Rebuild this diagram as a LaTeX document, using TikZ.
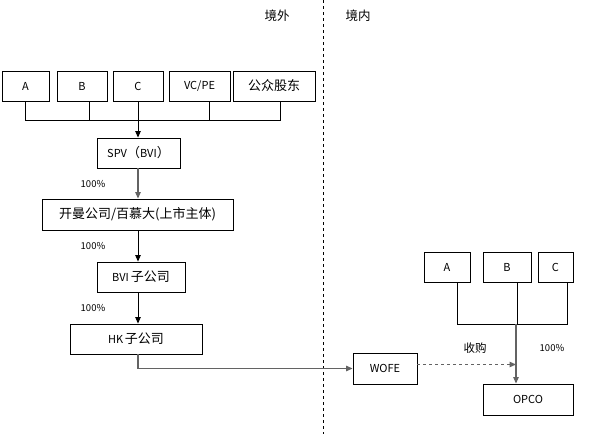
\documentclass[tikz,border=0pt]{standalone}
\usepackage{fontspec}
\setmainfont{Noto Sans CJK SC}
\newfontfamily\cjk{Noto Sans CJK SC}
\usetikzlibrary{arrows.meta,positioning,calc}
\definecolor{ink}{HTML}{000000}
\definecolor{line}{HTML}{636363}
\newcommand{\zh}[1]{{\cjk\fontsize{13}{15}\selectfont #1}}
\tikzset{
  box/.style={draw=ink,line width=.9pt,minimum height=30pt,inner sep=2pt,align=center,font=\fontsize{11}{13}\selectfont},
  plain/.style={align=center,font=\fontsize{9.5}{11}\selectfont,text=ink},
  zone/.style={align=center,font=\cjk\fontsize{12.5}{14}\selectfont},
  ln/.style={draw=ink,line width=.9pt},
  ar/.style={-{Triangle[length=6.5pt,width=5.5pt]},draw=ink,line width=.9pt},
  arg/.style={-{Triangle[length=6.5pt,width=5.5pt]},draw=line,line width=1.2pt},
  ard/.style={arg,dashed},
}
\begin{document}
\begin{tikzpicture}[x=1pt,y=-1pt]
  \useasboundingbox (0,0) rectangle (590,434);
  % 境外 / 境内
  \draw[ln,dashed] (323,0) -- (323,434);
  \node[zone] (out) at (277,16) {境外};
  \node[zone] (in) at (358,16) {境内};
  % shareholders
  \node[box,minimum width=47pt] (tA) at (25.5,86) {A};
  \node[box,minimum width=50pt] (tB) at (82,86) {B};
  \node[box,minimum width=50pt] (tC) at (138,86) {C};
  \node[box,minimum width=61pt] (tD) at (199.5,86) {VC/PE};
  \node[box,minimum width=82pt] (tE) at (274,86) {\zh{公众股东}};
  \coordinate (bus) at (138,120);
  \draw[ln] (tA.south) |- (bus);
  \draw[ln] ([xshift=7pt]tB.south) |- (bus);
  \draw[ln] ([xshift=9.5pt]tD.south) |- (bus);
  \draw[ln] ([xshift=6pt]tE.south) |- (bus);
  \draw[ln] (tC.south) -- (bus);
  % offshore chain
  \node[box,minimum width=83pt] (spv) at (138.5,153) {SPV\zh{（}BVI\zh{）}};
  \node[box,minimum width=191pt,minimum height=31pt] (cay) at (137.5,214.5) {\zh{开曼公司/百慕大(上市主体)}};
  \node[box,minimum width=88pt] (bvi) at (141,277) {BVI\,\zh{子公司}};
  \node[box,minimum width=132pt] (hk) at (136,339) {HK\,\zh{子公司}};
  \draw[ar] (bus) -- (spv.north -| bus);
  \draw[arg] (spv.south -| bus) -- (cay.north -| bus);
  \draw[ar] (cay.south -| bus) -- (bvi.north -| bus);
  \draw[ar] (bvi.south -| bus) -- (hk.north -| bus);
  \node[plain] (p1) at (93,184) {100\%};
  \node[plain] (p2) at (93,246) {100\%};
  \node[plain] (p3) at (93,308) {100\%};
  % onshore
  \node[box,minimum width=64pt,minimum height=31pt] (wofe) at (385,368.5) {WOFE};
  \draw[arg] (hk.south -| bus) |- (wofe.west);
  \node[box,minimum width=46pt] (rA) at (447,267) {A};
  \node[box,minimum width=48pt] (rB) at (507,267) {B};
  \node[box,minimum width=35pt] (rC) at (555.5,267) {C};
  \node[box,minimum width=90pt,minimum height=31pt] (opco) at (528,399.5) {OPCO};
  \coordinate (rbus) at (516,324);
  \draw[ln] ([xshift=10pt]rA.south) |- ([xshift=11.5pt]rC.south |- rbus) -- ([xshift=11.5pt]rC.south);
  \draw[ln] ([xshift=10pt]rB.south) -- ([xshift=10pt]rB.south |- rbus);
  \draw[arg] (rbus) -- (opco.north -| rbus);
  \draw[ard] ([yshift=4pt]wofe.east) -- ([yshift=4pt]wofe.east -| rbus);
  \node[plain,font=\cjk\fontsize{11.5}{13}\selectfont] (buy) at (475,348) {收购};
  \node[plain] (p4) at (552,348) {100\%};
\end{tikzpicture}
\end{document}
